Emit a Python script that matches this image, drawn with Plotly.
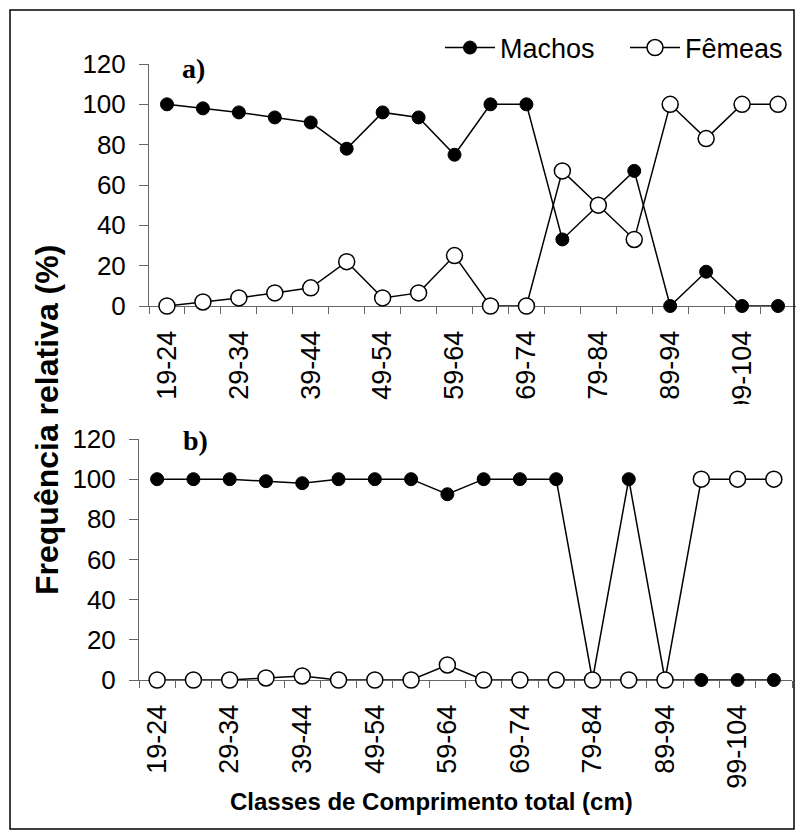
import plotly.graph_objects as go

# Length classes (cm) on the x axis
categories = ["19-24", "24-29", "29-34", "34-39", "39-44", "44-49", "49-54", "54-59",
              "59-64", "64-69", "69-74", "74-79", "79-84", "84-89", "89-94", "94-99",
              "99-104", "104-109"]
# Only every other class is labelled
tick_labels = [c if i % 2 == 0 else "" for i, c in enumerate(categories)]

# Panel a) relative frequency (%)
machos_a = [100, 98, 96, 93.5, 91, 78, 96, 93.5, 75, 100, 100, 33, 50, 67, 0, 17, 0, 0]
femeas_a = [0, 2, 4, 6.5, 9, 22, 4, 6.5, 25, 0, 0, 67, 50, 33, 100, 83, 100, 100]

# Panel b) relative frequency (%)
machos_b = [100, 100, 100, 99, 98, 100, 100, 100, 92.5, 100, 100, 100, 0, 100, 0, 0, 0, 0]
femeas_b = [0, 0, 0, 1, 2, 0, 0, 0, 7.5, 0, 0, 0, 0, 0, 0, 100, 100, 100]

y_ticks = [0, 20, 40, 60, 80, 100, 120]

W, H = 796, 832
SANS = "Liberation Sans, Arial, sans-serif"
SERIF = "Liberation Serif, Times New Roman, serif"
AXIS_GREY = "#666666"


def px_x(p):
    return p / W


def px_y(p):
    return (H - p) / H


filled = dict(symbol="circle", size=13, color="black", line=dict(color="black", width=1))
hollow = dict(symbol="circle", size=16, color="white", line=dict(color="black", width=1.5))
line_style = dict(color="black", width=1.5)

fig = go.Figure()

panels = [("x", "y", machos_a, femeas_a, True), ("x2", "y2", machos_b, femeas_b, False)]
for xa, ya, mach, fem, show in panels:
    fig.add_trace(go.Scatter(x=categories, y=mach, mode="lines+markers", name="Machos",
                             marker=filled, line=line_style, xaxis=xa, yaxis=ya,
                             showlegend=show, cliponaxis=False))
    fig.add_trace(go.Scatter(x=categories, y=fem, mode="lines+markers", name="Fêmeas",
                             marker=hollow, line=line_style, xaxis=xa, yaxis=ya,
                             showlegend=show, cliponaxis=False))

xaxis_common = dict(
    type="category", categoryorder="array", categoryarray=categories,
    range=[-0.5, len(categories) - 0.5],
    tickmode="array", tickvals=categories, ticktext=tick_labels,
    tickson="boundaries", ticks="outside", ticklen=7, tickcolor=AXIS_GREY, tickwidth=1,
    tickangle=-90, ticklabelstandoff=13,
    tickfont=dict(family=SANS, size=27, color="black"),
    showline=True, linecolor=AXIS_GREY, linewidth=1, automargin=False,
    showgrid=False, zeroline=False, layer="below traces", fixedrange=True,
)
yaxis_common = dict(
    range=[0, 120], tickmode="array", tickvals=y_ticks,
    ticks="outside", ticklen=9, tickcolor=AXIS_GREY, tickwidth=1,
    ticklabelstandoff=8, automargin=False,
    tickfont=dict(family=SANS, size=26, color="black"),
    showline=True, linecolor=AXIS_GREY, linewidth=1,
    showgrid=False, zeroline=False, layer="below traces", fixedrange=True,
)


def note(text, x, y, size, family=SANS, angle=0):
    return dict(text=text, x=px_x(x), y=px_y(y), xref="paper", yref="paper",
                xanchor="center", yanchor="middle", showarrow=False, textangle=angle,
                font=dict(family=family, size=size, color="black"))


fig.update_layout(
    width=W, height=H, autosize=False,
    margin=dict(l=0, r=0, t=0, b=0, pad=0, autoexpand=False),
    paper_bgcolor="white", plot_bgcolor="white",
    xaxis=dict(xaxis_common, domain=[px_x(149), 1.0], anchor="y"),
    yaxis=dict(yaxis_common, domain=[px_y(306), px_y(64)], anchor="x"),
    xaxis2=dict(xaxis_common, domain=[px_x(139), px_x(792)], anchor="y2"),
    yaxis2=dict(yaxis_common, domain=[px_y(680), px_y(439)], anchor="x2"),
    legend=dict(orientation="h", x=px_x(440), xanchor="left", y=px_y(48), yanchor="middle",
                font=dict(family=SANS, size=27, color="black"),
                bgcolor="rgba(0,0,0,0)", itemwidth=50, entrywidth=120,
                entrywidthmode="pixels", traceorder="normal"),
    showlegend=True,
    annotations=[
        note("<b>a)</b>", 193, 68, 28, SERIF),
        note("<b>b)</b>", 195, 441, 28, SERIF),
        note("<b>Frequência relativa (%)</b>", 47, 420, 32, angle=-90),
        note("<b>Classes de Comprimento total (cm)</b>", 431, 801, 24),
    ],
    shapes=[
        # white band where the lower panel overlaps the upper tick labels
        dict(type="rect", xref="paper", yref="paper", x0=px_x(715), x1=px_x(770),
             y0=px_y(428), y1=px_y(404), fillcolor="white", line=dict(width=0),
             layer="above"),
        # outer frame
        dict(type="rect", xref="paper", yref="paper", x0=px_x(10), x1=px_x(794),
             y0=px_y(829), y1=px_y(10), line=dict(color="black", width=1.5),
             fillcolor="rgba(0,0,0,0)", layer="above"),
    ],
)

fig.write_html("out.html")
